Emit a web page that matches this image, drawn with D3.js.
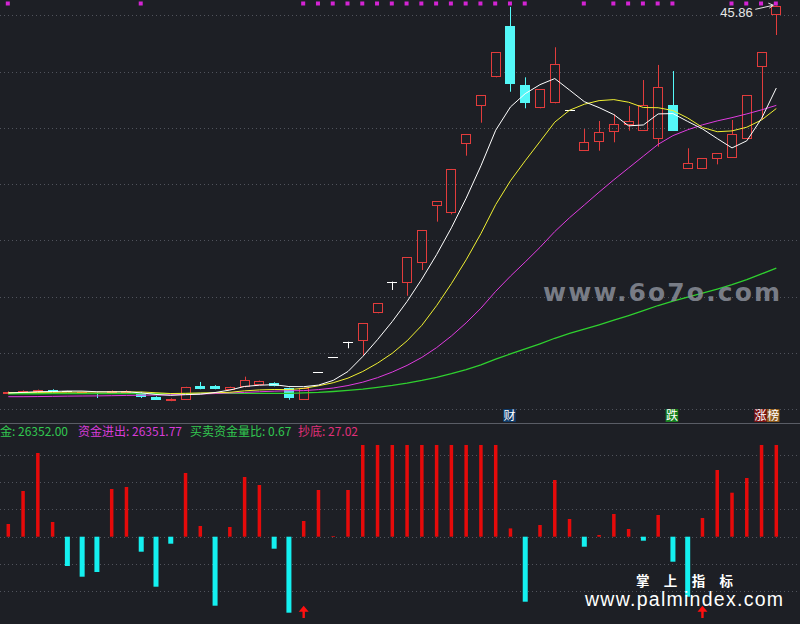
<!DOCTYPE html>
<html><head><meta charset="utf-8">
<script src="https://cdn.jsdelivr.net/npm/d3@7/dist/d3.min.js"></script>
<style>html,body{margin:0;padding:0;background:#1d1f25;overflow:hidden}</style>
</head><body><svg id="c" width="800" height="624"></svg>
<script>
// ---------- data ----------
const days = [1,2,3,4,5,6,7,8,9,10,11,12,13,14,15,16,17,18,19,20,21,22,23,24,25,26,27,28,29,30,31,32,33,34,35,36,37,38,39,40,41,42,43,44,45,46,47,48,49,50,51,52,53];
const open  = [11.36,11.48,11.51,11.72,11.60,11.48,11.45,11.48,11.48,11.33,11.12,10.74,10.85,12.07,12.03,11.74,11.98,12.20,12.34,11.86,10.85,13.29,14.62,16.00,16.07,18.53,21.34,21.19,22.97,28.09,27.46,33.54,36.97,39.49,44.05,38.81,36.74,37.18,36.59,32.97,33.72,34.61,35.26,34.72,34.01,37.03,31.35,31.37,32.24,32.35,33.99,40.43,45.03];
const high  = [11.60,11.68,11.75,11.78,11.64,11.58,11.48,11.68,11.70,11.55,11.16,10.97,12.00,12.43,12.15,12.01,12.90,12.55,12.40,11.92,11.92,13.29,14.62,16.00,17.64,19.42,21.34,23.50,25.93,28.50,31.35,34.46,37.92,41.71,45.75,39.49,38.45,42.16,36.59,34.90,35.61,36.21,36.94,39.25,40.59,40.05,33.19,32.30,32.74,35.70,37.92,41.71,45.86];
const low   = [11.33,11.45,11.48,11.52,11.55,11.46,11.00,11.45,11.44,11.00,10.83,10.72,10.83,11.78,11.78,11.72,11.95,12.17,12.04,10.85,10.83,13.29,14.62,15.42,14.82,18.53,20.60,20.09,22.37,26.67,27.32,32.53,35.46,39.49,38.21,36.74,36.74,37.18,36.59,32.97,32.97,33.72,34.75,34.72,33.33,34.75,31.35,31.37,31.76,32.35,33.99,35.70,43.25];
const close = [11.56,11.65,11.72,11.56,11.60,11.55,11.37,11.65,11.65,11.09,10.85,10.94,11.98,11.83,11.83,11.95,12.58,12.51,12.07,11.00,11.89,13.29,14.62,16.00,17.64,19.42,21.34,23.50,25.93,28.50,31.35,34.46,37.92,41.71,38.87,37.24,38.45,40.65,36.59,33.72,34.61,35.32,35.64,37.03,38.60,34.75,31.85,32.30,32.74,34.46,37.92,41.71,45.86];
const ma5   = [11.45,11.50,11.56,11.58,11.62,11.62,11.56,11.55,11.56,11.46,11.32,11.24,11.30,11.34,11.49,11.71,12.03,12.14,12.19,12.02,12.01,12.15,12.57,13.36,14.69,16.19,17.80,19.58,21.57,23.74,26.12,28.75,31.63,34.79,36.86,38.04,38.84,39.38,38.36,37.33,36.80,36.18,35.18,35.26,36.24,36.27,35.57,34.91,34.05,33.22,33.85,35.83,38.54];
const ma10  = [11.48,11.49,11.50,11.51,11.52,11.53,11.53,11.54,11.54,11.54,11.47,11.40,11.42,11.45,11.47,11.51,11.64,11.72,11.76,11.75,11.86,12.09,12.36,12.77,13.36,14.10,14.98,16.08,17.46,19.21,21.16,23.28,25.61,28.18,30.30,32.08,33.79,35.51,36.57,37.10,37.42,37.51,37.28,36.81,36.79,36.54,35.88,35.04,34.66,34.73,35.06,35.70,36.72];
const ma20  = [11.12,11.12,11.13,11.15,11.17,11.18,11.19,11.21,11.23,11.25,11.27,11.29,11.32,11.36,11.40,11.45,11.50,11.56,11.61,11.65,11.66,11.75,11.89,12.11,12.41,12.81,13.31,13.90,14.61,15.48,16.51,17.68,18.98,20.48,21.83,23.09,24.39,25.79,27.02,28.15,29.29,30.39,31.44,32.49,33.54,34.31,34.83,35.27,35.62,35.91,36.24,36.60,37.00];
const ma60  = [11.38,11.38,11.38,11.39,11.39,11.39,11.39,11.40,11.40,11.40,11.40,11.40,11.40,11.41,11.41,11.41,11.42,11.42,11.42,11.42,11.45,11.50,11.58,11.68,11.80,11.95,12.12,12.32,12.56,12.84,13.16,13.53,13.95,14.46,14.92,15.36,15.82,16.31,16.74,17.12,17.51,17.92,18.33,18.76,19.22,19.62,19.97,20.32,20.68,21.07,21.52,22.03,22.55];
const flow  = [4669,16801,30772,5404,-10772,-14706,-12978,17537,18272,-5515,-18382,-2574,23419,3934,-25368,3566,21949,19007,-4412,-27941,5772,17169,257,17169,40000,40000,40000,40000,40000,40000,40000,40000,40000,40000,3051,-23897,4301,20846,6507,-3676,625,8346,2831,-1471,7978,-9191,-22059,6875,24522,16176,21581,40000,40000];
const dotDays    = [1,10,21,22,23,24,25,26,27,28,29,30,31,32,33,34,35,36,40,42,43,44,45,46,50,51,52,53];
const arrowDays  = [21,48];
const signalDays = [35,46,52];
const signalText = ["财","跌","涨榜"];
const priceTicks = [10,15,20,25,30,35,40,45];
const flowTicks  = [-20000,-10000,0,10000,20000,30000];
const legendLabels = ["资金","资金进出","买卖资金量比","抄底"];
const legendValues = ["26352.00","26351.77","0.67","27.02"];

// ---------- chart ----------
const W = 800, H = 624, SEP = 423.3;
const svg = d3.select("#c");
svg.append("rect").attr("width",W).attr("height",H).attr("fill","#1d1f25");

const x = d3.scaleBand().domain(days).range([0.915, 783.7]).paddingInner(0.32).paddingOuter(0.16);
const xc = d => x(d) + x.bandwidth()/2;
const yP = d3.scaleLinear().domain([8.756, 46.36]).range([SEP, 0]);
const yF = d3.scaleLinear().domain([-32096, 33713]).range([624, 445]).clamp(true);

const grid = svg.append("g").attr("stroke","#50535c").attr("stroke-dasharray","1,3").attr("stroke-width",1);
priceTicks.forEach(t => { const y = Math.round(yP(t))+0.5;
  grid.append("line").attr("x1",0).attr("x2",W).attr("y1",y).attr("y2",y); });
flowTicks.forEach(t => { const y = Math.round(yF(t))+0.5;
  grid.append("line").attr("x1",0).attr("x2",W).attr("y1",y).attr("y2",y); });
svg.append("line").attr("x1",0).attr("x2",W).attr("y1",Math.round(SEP)+0.5).attr("y2",Math.round(SEP)+0.5)
  .attr("stroke","#5a5d66").attr("stroke-width",1);

svg.append("clipPath").attr("id","cpTop").append("rect").attr("width",W).attr("height",SEP);
const topG = svg.append("g").attr("clip-path","url(#cpTop)");

const UP="#e23c3c", DN="#54f8f8";
days.forEach((d,i) => {
  const cx = Math.round(xc(d)) + 0.5;
  const o=open[i], c=close[i], h=high[i], l=low[i];
  const yt = Math.round(yP(Math.max(o,c))), yb = Math.round(yP(Math.min(o,c)));
  const bx = Math.round(xc(d) - 5);
  if (c > o) {
    topG.append("line").attr("x1",cx).attr("x2",cx).attr("y1",yP(h)).attr("y2",yt).attr("stroke",UP);
    topG.append("line").attr("x1",cx).attr("x2",cx).attr("y1",yb).attr("y2",yP(l)).attr("stroke",UP);
    topG.append("rect").attr("x",bx+0.5).attr("y",yt+0.5).attr("width",9).attr("height",Math.max(1,yb-yt-1))
      .attr("fill","none").attr("stroke",UP).attr("stroke-width",1);
  } else if (c < o) {
    topG.append("line").attr("x1",cx).attr("x2",cx).attr("y1",yP(h)).attr("y2",yP(l)).attr("stroke",DN);
    topG.append("rect").attr("x",bx).attr("y",yt).attr("width",10).attr("height",Math.max(1,yb-yt)).attr("fill",DN);
  } else {
    const yy = Math.round(yP(c))+0.5;
    topG.append("line").attr("x1",cx).attr("x2",cx).attr("y1",yP(h)).attr("y2",yP(l)).attr("stroke","#ffffff");
    topG.append("line").attr("x1",bx).attr("x2",bx+10).attr("y1",yy).attr("y2",yy).attr("stroke","#ffffff");
  }
});

const lineOf = arr => d3.line().x((v,i)=>xc(days[i])).y(v=>yP(v))(arr);
[[ma60,"#2fd02f",1.3],[ma20,"#e03ce0",1],[ma10,"#f0f032",1],[ma5,"#ffffff",1]].forEach(([a,col,w]) => {
  topG.append("path").attr("d",lineOf(a)).attr("fill","none").attr("stroke",col).attr("stroke-width",w);
});

// top magenta dots
dotDays.forEach(d => svg.append("rect").attr("x",xc(d)-2.5).attr("y",1.5).attr("width",4).attr("height",4).attr("fill","#d424d4"));

// max label
const iMax = d3.maxIndex(high);
const mx = xc(days[iMax]), my = yP(high[iMax]);
svg.append("text").attr("x",mx-23.5).attr("y",my+11).attr("text-anchor","end")
  .attr("font-family","Liberation Sans, Arial, sans-serif").attr("font-size",13).attr("fill","#e6e6e6")
  .text(high[iMax].toFixed(2));
svg.append("line").attr("x1",mx-21).attr("y1",my+3.7).attr("x2",mx-3).attr("y2",my-0.4).attr("stroke","#e6e6e6");
svg.append("path").attr("d",`M${mx-8},${my-2.5} L${mx-3},${my-0.4} L${mx-7},${my+2.5}`).attr("fill","none").attr("stroke","#e6e6e6");

// watermark
svg.append("text").attr("x",543).attr("y",301).attr("font-family","DejaVu Sans, sans-serif").attr("font-weight","bold")
  .attr("font-size",25).attr("fill","#8a8e98").attr("fill-opacity",0.85).attr("textLength",237).attr("lengthAdjust","spacing")
  .text("www.6o7o.com");

// signals
const sigCol = {"财":"#0f3a68","跌":"#16801e","涨":"#7a1212","榜":"#8c5a1c"};
signalDays.forEach((d,k) => {
  const chars = signalText[k].split("");
  const x0 = xc(d) - 7.3;
  chars.forEach((ch,j) => {
    svg.append("rect").attr("x",x0+j*12.6).attr("y",409).attr("width",12.6).attr("height",13).attr("fill",sigCol[ch]||"#333");
    svg.append("text").attr("x",x0+j*12.6+6.3).attr("y",420).attr("text-anchor","middle")
      .attr("font-family","Noto Sans CJK SC, sans-serif").attr("font-size",12).attr("fill","#ffffff").text(ch);
  });
});

// legend (first item is partly off the left edge, as in the reference)
const legX = [-12, 78, 190, 298];
const legCol = ["#32c850","#d83cd8","#32c850","#e0307a"];
legendLabels.forEach((lab,k) => {
  svg.append("text").attr("x",legX[k]).attr("y",436).attr("font-family","Noto Sans CJK SC, sans-serif")
    .attr("font-size",12).attr("fill",legCol[k]).text(lab + ": " + legendValues[k]);
});

// flow bars
days.forEach((d,i) => {
  const v = flow[i], cx = xc(d), y0 = yF(0);
  if (v >= 0) svg.append("rect").attr("x",cx-1.75).attr("y",yF(v)).attr("width",3.5).attr("height",y0-yF(v)).attr("fill","#e60a0a");
  else svg.append("rect").attr("x",cx-2.5).attr("y",y0).attr("width",5).attr("height",yF(v)-y0).attr("fill","#14f0f0");
});

// red arrows
arrowDays.forEach(d => {
  const cx = xc(d);
  svg.append("path").attr("d",`M${cx},605.7 L${cx+5},611.7 L${cx+1.2},611.7 L${cx+1.2},618 L${cx-1.2},618 L${cx-1.2},611.7 L${cx-5},611.7 Z`).attr("fill","#ff1010");
});

// bottom watermark
svg.append("text").attr("x",636).attr("y",586).attr("font-family","Noto Sans CJK SC, sans-serif").attr("font-weight","bold")
  .attr("font-size",13.5).attr("fill","#ffffff").attr("textLength",97).attr("lengthAdjust","spacing").text("掌上指标");
svg.append("text").attr("x",585).attr("y",606).attr("font-family","Liberation Sans, Arial, sans-serif")
  .attr("font-size",19.5).attr("fill","#ffffff").attr("textLength",198).attr("lengthAdjust","spacing").text("www.palmindex.com");
</script></body></html>
